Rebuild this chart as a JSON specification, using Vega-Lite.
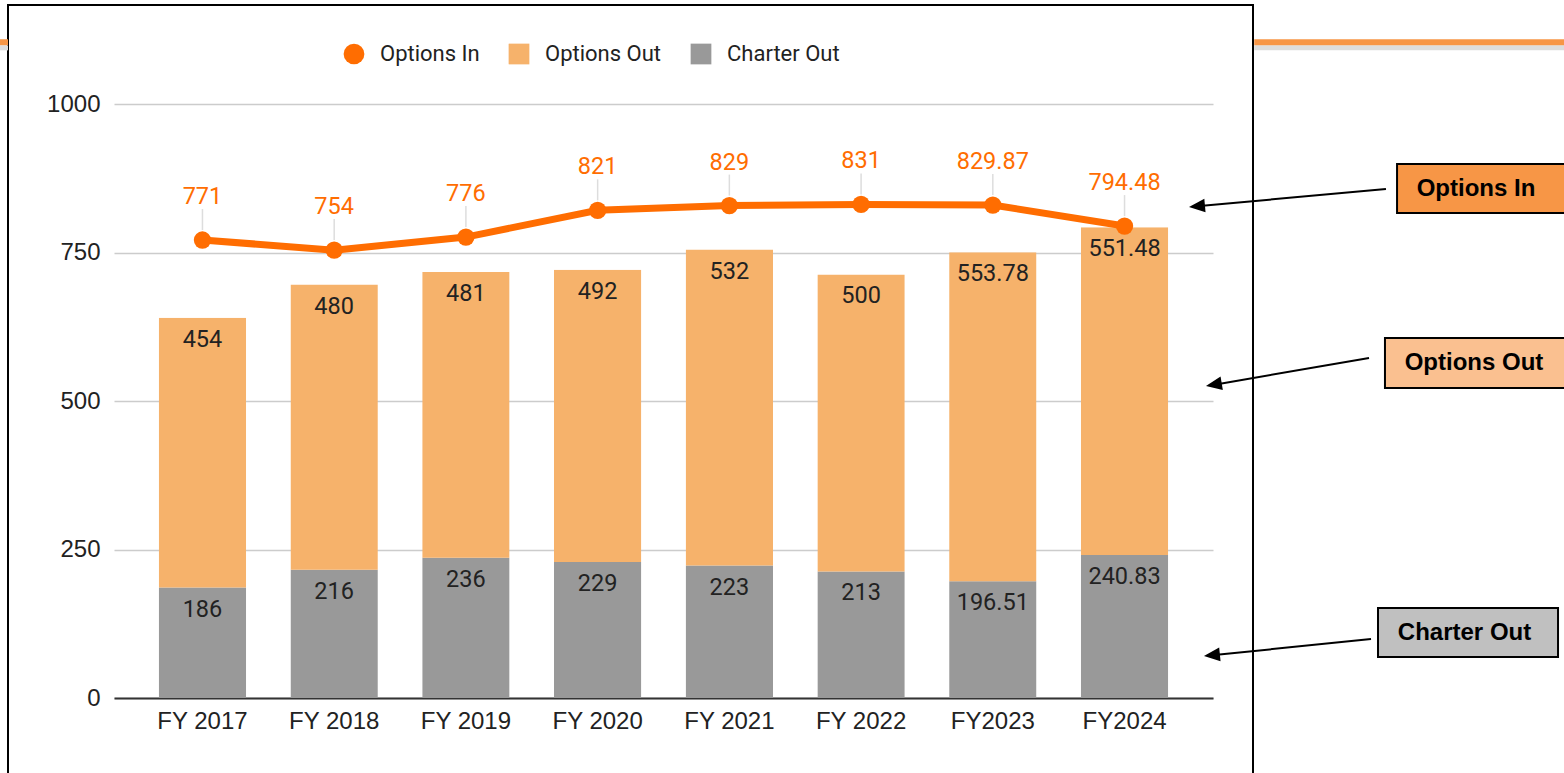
{
  "$schema": "https://vega.github.io/schema/vega-lite/v6.json",
  "autosize": {"type": "none"},
  "padding": {"left": 8, "top": 5, "right": 311, "bottom": -3},
  "width": 1245,
  "height": 771,
  "background": "#ffffff",
  "config": {
    "view": {"stroke": "#000000", "strokeWidth": 2},
    "font": "Roboto",
    "axisX": {"offset": -78, "domain": true, "domainColor": "#333333", "domainWidth": 2, "ticks": false, "tickSize": 0, "labelPadding": 11, "labelAngle": 0, "labelFont": "Liberation Sans", "labelFontSize": 24, "labelColor": "#222222", "title": null, "grid": false},
    "axisY": {"offset": 0, "domain": false, "ticks": false, "tickSize": 0, "labelPadding": -92, "labelFont": "Liberation Sans", "labelFontSize": 24, "labelColor": "#222222", "title": null, "grid": true, "gridColor": "#cccccc", "gridWidth": 1.5}
  },
  "datasets": {
    "fy": [
      {"year": "FY 2017", "series": "Charter Out", "value": 186},
      {"year": "FY 2017", "series": "Options Out", "value": 454},
      {"year": "FY 2017", "series": "Options In", "value": 771},
      {"year": "FY 2018", "series": "Charter Out", "value": 216},
      {"year": "FY 2018", "series": "Options Out", "value": 480},
      {"year": "FY 2018", "series": "Options In", "value": 754},
      {"year": "FY 2019", "series": "Charter Out", "value": 236},
      {"year": "FY 2019", "series": "Options Out", "value": 481},
      {"year": "FY 2019", "series": "Options In", "value": 776},
      {"year": "FY 2020", "series": "Charter Out", "value": 229},
      {"year": "FY 2020", "series": "Options Out", "value": 492},
      {"year": "FY 2020", "series": "Options In", "value": 821},
      {"year": "FY 2021", "series": "Charter Out", "value": 223},
      {"year": "FY 2021", "series": "Options Out", "value": 532},
      {"year": "FY 2021", "series": "Options In", "value": 829},
      {"year": "FY 2022", "series": "Charter Out", "value": 213},
      {"year": "FY 2022", "series": "Options Out", "value": 500},
      {"year": "FY 2022", "series": "Options In", "value": 831},
      {"year": "FY2023", "series": "Charter Out", "value": 196.51},
      {"year": "FY2023", "series": "Options Out", "value": 553.78},
      {"year": "FY2023", "series": "Options In", "value": 829.87},
      {"year": "FY2024", "series": "Charter Out", "value": 240.83},
      {"year": "FY2024", "series": "Options Out", "value": 551.48},
      {"year": "FY2024", "series": "Options In", "value": 794.48}
    ]
  },
  "resolve": {"scale": {"x": "independent"}},
  "layer": [
    {
      "data": {"name": "fy"},
      "encoding": {
        "x": {"field": "year", "type": "nominal", "sort": null, "scale": {"range": [106, 1205], "paddingInner": 0.337, "paddingOuter": 0.34}}
      },
      "layer": [
        {
          "transform": [{"filter": "datum.series !== 'Options In'"}],
          "mark": {"type": "bar", "cornerRadiusTopLeft": {"expr": "datum.series === 'Options Out' ? 5 : 0"}, "cornerRadiusTopRight": {"expr": "datum.series === 'Options Out' ? 5 : 0"}},
          "encoding": {
            "y": {"field": "value", "type": "quantitative", "stack": "zero", "scale": {"domain": [0, 1000], "range": [693, 99], "nice": false, "zero": false}, "axis": {"values": [0, 250, 500, 750, 1000], "format": "d"}},
            "color": {"field": "series", "type": "nominal", "scale": {"domain": ["Options In", "Options Out", "Charter Out"], "range": ["#FF6D01", "#F6B26B", "#999999"]},
              "legend": {"orient": "none", "legendX": 335, "legendY": 38, "direction": "horizontal", "title": null, "symbolSize": 430, "symbolType": "square", "labelFont": "Roboto", "labelFontSize": 22, "labelColor": "#222222", "labelOffset": 15, "columnPadding": 28, "padding": 0,
                "encode": {"symbols": {"update": {"shape": {"signal": "datum.value === 'Options In' ? 'circle' : 'square'"}, "fill": {"scale": "color", "field": "value"}, "opacity": {"value": 1}, "strokeWidth": {"value": 0}}}}}},
            "order": {"field": "series", "sort": "ascending"}
          }
        },
        {
          "transform": [{"filter": "datum.series !== 'Options In'"}],
          "mark": {"type": "text", "baseline": "alphabetic", "dy": 29, "fontSize": 23.5, "font": "Roboto", "color": "#222222"},
          "encoding": {
            "y": {"field": "value", "type": "quantitative", "stack": "zero"},
            "detail": {"field": "series", "type": "nominal"},
            "order": {"field": "series", "sort": "ascending"},
            "text": {"field": "value", "type": "nominal"}
          }
        },
        {
          "transform": [{"filter": "datum.series === 'Options In'"}],
          "mark": {"type": "rule", "color": "#dddddd", "strokeWidth": 1.5, "yOffset": -10, "y2Offset": -31},
          "encoding": {
            "y": {"field": "value", "type": "quantitative"},
            "y2": {"field": "value"}
          }
        },
        {
          "transform": [{"filter": "datum.series === 'Options In'"}],
          "mark": {"type": "line", "strokeWidth": 7, "point": {"filled": true, "size": 300}},
          "encoding": {
            "y": {"field": "value", "type": "quantitative"},
            "color": {"field": "series", "type": "nominal"}
          }
        },
        {
          "transform": [{"filter": "datum.series === 'Options In'"}],
          "mark": {"type": "text", "baseline": "alphabetic", "dy": -36, "fontSize": 23.5, "font": "Roboto", "color": "#FF6D01"},
          "encoding": {
            "y": {"field": "value", "type": "quantitative"},
            "text": {"field": "value", "type": "nominal"}
          }
        }
      ]
    },
    {
      "data": {"values": [{}]},
      "layer": [
        {
          "mark": {"type": "rule", "color": "#dddddd", "strokeWidth": 5},
          "encoding": {
            "x": {"datum": -0.7, "type": "quantitative", "scale": {"domain": [0, 100], "nice": false, "zero": false}, "axis": null},
            "x2": {"datum": 0},
            "y": {"datum": 1094.5, "type": "quantitative"}
          }
        },
        {
          "mark": {"type": "rule", "color": "#dddddd", "strokeWidth": 5},
          "encoding": {
            "x": {"datum": 100.1, "type": "quantitative", "axis": null},
            "x2": {"datum": 125.2},
            "y": {"datum": 1094.5, "type": "quantitative"}
          }
        },
        {
          "mark": {"type": "rule", "color": "#F79646", "strokeWidth": 6},
          "encoding": {
            "x": {"datum": -0.7, "type": "quantitative", "axis": null},
            "x2": {"datum": 0},
            "y": {"datum": 1104, "type": "quantitative"}
          }
        },
        {
          "mark": {"type": "rule", "color": "#F79646", "strokeWidth": 6},
          "encoding": {
            "x": {"datum": 100.1, "type": "quantitative", "axis": null},
            "x2": {"datum": 125.2},
            "y": {"datum": 1104, "type": "quantitative"}
          }
        },
        {
          "mark": {"type": "rect", "fill": "#F79646", "stroke": "#000000", "strokeWidth": 2},
          "encoding": {
            "x": {"datum": 111.57, "type": "quantitative", "axis": null},
            "x2": {"datum": 125.3},
            "y": {"datum": 899, "type": "quantitative"},
            "y2": {"datum": 816.5}
          }
        },
        {
          "mark": {"type": "rect", "fill": "#FAC090", "stroke": "#000000", "strokeWidth": 2},
          "encoding": {
            "x": {"datum": 110.6, "type": "quantitative", "axis": null},
            "x2": {"datum": 125.3},
            "y": {"datum": 606.1, "type": "quantitative"},
            "y2": {"datum": 521.9}
          }
        },
        {
          "mark": {"type": "rect", "fill": "#C0C0C0", "stroke": "#000000", "strokeWidth": 2},
          "encoding": {
            "x": {"datum": 110.04, "type": "quantitative", "axis": null},
            "x2": {"datum": 124.5},
            "y": {"datum": 151.5, "type": "quantitative"},
            "y2": {"datum": 69.0}
          }
        },
        {
          "mark": {"type": "text", "font": "Liberation Sans", "fontWeight": "bold", "fontSize": 24, "color": "#000000", "align": "center", "baseline": "middle"},
          "encoding": {
            "x": {"datum": 117.91, "type": "quantitative", "axis": null},
            "y": {"datum": 856.9, "type": "quantitative"},
            "text": {"value": "Options In"}
          }
        },
        {
          "mark": {"type": "text", "font": "Liberation Sans", "fontWeight": "bold", "fontSize": 24, "color": "#000000", "align": "center", "baseline": "middle"},
          "encoding": {
            "x": {"datum": 117.75, "type": "quantitative", "axis": null},
            "y": {"datum": 564.0, "type": "quantitative"},
            "text": {"value": "Options Out"}
          }
        },
        {
          "mark": {"type": "text", "font": "Liberation Sans", "fontWeight": "bold", "fontSize": 24, "color": "#000000", "align": "center", "baseline": "middle"},
          "encoding": {
            "x": {"datum": 116.99, "type": "quantitative", "axis": null},
            "y": {"datum": 109.9, "type": "quantitative"},
            "text": {"value": "Charter Out"}
          }
        },
        {
          "mark": {"type": "rule", "color": "#000000", "strokeWidth": 2},
          "encoding": {
            "x": {"datum": 110.68, "type": "quantitative", "axis": null},
            "x2": {"datum": 95.5},
            "y": {"datum": 856.9, "type": "quantitative"},
            "y2": {"datum": 827.8}
          }
        },
        {
          "mark": {"type": "rule", "color": "#000000", "strokeWidth": 2},
          "encoding": {
            "x": {"datum": 109.32, "type": "quantitative", "axis": null},
            "x2": {"datum": 96.9},
            "y": {"datum": 572.4, "type": "quantitative"},
            "y2": {"datum": 527.5}
          }
        },
        {
          "mark": {"type": "rule", "color": "#000000", "strokeWidth": 2},
          "encoding": {
            "x": {"datum": 109.48, "type": "quantitative", "axis": null},
            "x2": {"datum": 96.7},
            "y": {"datum": 99.3, "type": "quantitative"},
            "y2": {"datum": 71.9}
          }
        },
        {
          "mark": {"type": "point", "shape": "M0,0L2,-0.85L2,0.85Z", "size": 256, "filled": true, "color": "#000000", "opacity": 1, "angle": 354.8},
          "encoding": {
            "x": {"datum": 94.86, "type": "quantitative", "axis": null},
            "y": {"datum": 826.6, "type": "quantitative"}
          }
        },
        {
          "mark": {"type": "point", "shape": "M0,0L2,-0.85L2,0.85Z", "size": 256, "filled": true, "color": "#000000", "opacity": 1, "angle": 350.3},
          "encoding": {
            "x": {"datum": 96.22, "type": "quantitative", "axis": null},
            "y": {"datum": 525.3, "type": "quantitative"}
          }
        },
        {
          "mark": {"type": "point", "shape": "M0,0L2,-0.85L2,0.85Z", "size": 256, "filled": true, "color": "#000000", "opacity": 1, "angle": 354.2},
          "encoding": {
            "x": {"datum": 96.06, "type": "quantitative", "axis": null},
            "y": {"datum": 70.7, "type": "quantitative"}
          }
        }
      ]
    }
  ]
}
